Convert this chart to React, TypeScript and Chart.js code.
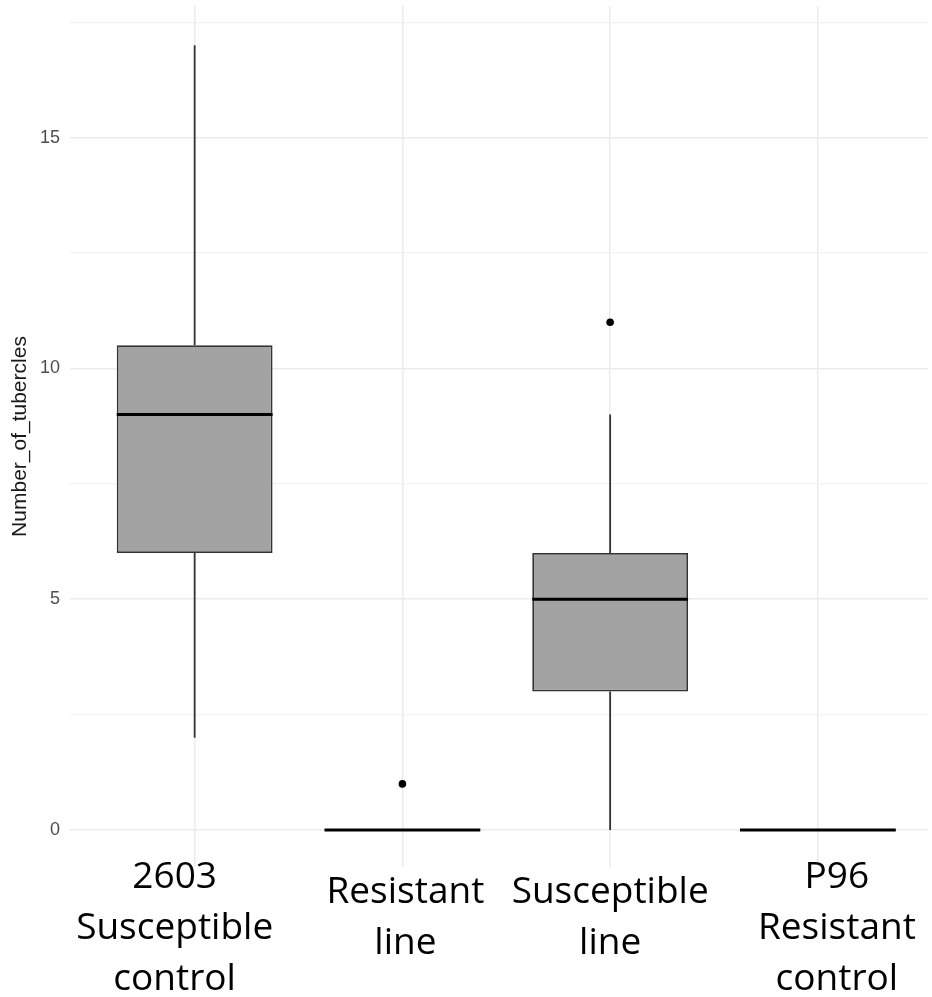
import React, { useEffect, useRef } from 'react';
import { Chart, registerables } from 'chart.js';

Chart.register(...registerables);

// ---- data ----
const categories: string[][] = [
  ['2603', 'Susceptible', 'control'],
  ['Resistant', 'line'],
  ['Susceptible', 'line'],
  ['P96', 'Resistant', 'control'],
];
const lowerWhisker = [2, 0, 0, 0];
const q1 = [6, 0, 3, 0];
const median = [9, 0, 5, 0];
const q3 = [10.5, 0, 6, 0];
const upperWhisker = [17, 0, 9, 0];
const outliers: number[][] = [[], [1], [11], []];
const yMajorTicks = [0, 5, 10, 15];
const yMinorTicks = [2.5, 7.5, 12.5, 17.5];
const yTitle = 'Number_of_tubercles';

// ---- layout / style constants ----
const BOX_WIDTH = 0.75; // in category units
const LABEL_SHIFT = [-20, 3, 0, 19]; // horizontal nudge of each pasted x label (px)

const xLabelsPlugin = {
  id: 'xLabels',
  afterDraw(chart: any) {
    const { ctx, chartArea } = chart;
    const x = chart.scales.x;
    ctx.save();
    ctx.font = '37px "Open Sans"';
    ctx.fillStyle = '#000000';
    ctx.textAlign = 'center';
    ctx.textBaseline = 'alphabetic';
    categories.forEach((lines, i) => {
      const cx = x.getPixelForValue(i) + LABEL_SHIFT[i];
      const y0 = chartArea.bottom + 21 + (3 - lines.length) * 15;
      lines.forEach((t, j) => ctx.fillText(t, cx, y0 + j * 51));
    });
    ctx.restore();
  },
};

export default function App() {
  const ref = useRef<HTMLCanvasElement | null>(null);

  useEffect(() => {
    if (!ref.current) return;

    const boxData = categories.map((_, i) => ({ x: i, y: [q1[i], q3[i]] }));
    const whiskerData: any[] = [];
    categories.forEach((_, i) => {
      whiskerData.push({ x: i, y: lowerWhisker[i] }, { x: i, y: q1[i] }, { x: i, y: null });
      whiskerData.push({ x: i, y: q3[i] }, { x: i, y: upperWhisker[i] }, { x: i, y: null });
    });
    const medianData: any[] = [];
    categories.forEach((_, i) => {
      medianData.push(
        { x: i - BOX_WIDTH / 2, y: median[i] },
        { x: i + BOX_WIDTH / 2, y: median[i] },
        { x: i, y: null }
      );
    });
    const outlierData: any[] = [];
    outliers.forEach((vals, i) => vals.forEach((v) => outlierData.push({ x: i, y: v })));

    const allY = [...yMinorTicks, ...yMajorTicks].sort((a, b) => a - b);

    const chart = new Chart(ref.current, {
      type: 'bar',
      data: {
        datasets: [
          {
            type: 'scatter',
            data: outlierData,
            pointRadius: 3.8,
            pointBackgroundColor: '#000000',
            pointBorderWidth: 0,
            order: 0,
          } as any,
          {
            type: 'line',
            data: medianData,
            borderColor: '#000000',
            borderWidth: 3,
            pointRadius: 0,
            spanGaps: false,
            fill: false,
            tension: 0,
            order: 1,
          } as any,
          {
            type: 'line',
            data: whiskerData,
            borderColor: '#333333',
            borderWidth: 1.8,
            pointRadius: 0,
            spanGaps: false,
            fill: false,
            tension: 0,
            order: 2,
          } as any,
          {
            type: 'bar',
            data: boxData,
            backgroundColor: '#a3a3a3',
            borderColor: '#333333',
            borderWidth: 1.8,
            borderSkipped: false,
            barPercentage: BOX_WIDTH,
            categoryPercentage: 1,
            order: 3,
          } as any,
        ],
      },
      options: {
        animation: false,
        responsive: false,
        maintainAspectRatio: false,
        layout: { padding: { top: 6, right: 0, left: 0, bottom: 0 } },
        plugins: {
          legend: { display: false },
          tooltip: { enabled: false },
        },
        scales: {
          x: {
            type: 'linear',
            offset: false,
            min: -0.6,
            max: 3.53,
            afterBuildTicks: (scale: any) => {
              scale.ticks = categories.map((_, i) => ({ value: i }));
            },
            afterFit: (scale: any) => {
              scale.height = 130;
              scale.paddingLeft = 0;
              scale.paddingRight = 0;
            },
            ticks: { display: false },
            grid: { color: '#ebebeb', lineWidth: 1.5, drawTicks: false, offset: false },
            border: { display: false },
          },
          y: {
            type: 'linear',
            min: -0.8,
            max: 17.85,
            afterBuildTicks: (scale: any) => {
              scale.ticks = allY.map((v) => ({ value: v }));
            },
            afterFit: (scale: any) => {
              scale.width = 70;
              scale.paddingTop = 0;
              scale.paddingBottom = 0;
            },
            ticks: {
              padding: 10,
              color: '#4d4d4d',
              font: { family: '"Liberation Sans", Arial, sans-serif', size: 18 },
              callback: (v: any) => (yMajorTicks.includes(Number(v)) ? String(v) : ''),
            },
            grid: {
              drawTicks: false,
              color: (ctx: any) => (yMajorTicks.includes(ctx.tick?.value) ? '#ebebeb' : '#f2f2f2'),
              lineWidth: (ctx: any) => (yMajorTicks.includes(ctx.tick?.value) ? 1.5 : 1.2),
            },
            border: { display: false },
            title: {
              display: true,
              text: yTitle,
              color: '#1a1a1a',
              font: { family: '"Liberation Sans", Arial, sans-serif', size: 21 },
              padding: { top: 8, bottom: 0 },
            },
          },
        },
      },
      plugins: [xLabelsPlugin],
    });

    return () => chart.destroy();
  }, []);

  return (
    <div style={{ position: 'fixed', left: 0, top: 0, width: 932, height: 997, background: '#ffffff' }}>
      <canvas ref={ref} width={932} height={997} style={{ display: 'block' }} />
    </div>
  );
}
